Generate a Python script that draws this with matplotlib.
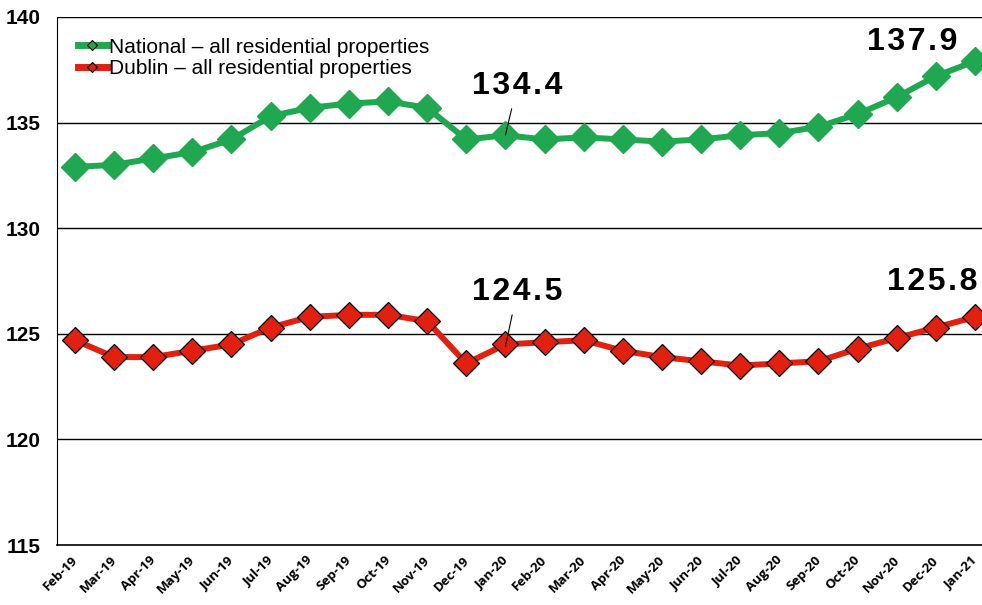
import matplotlib.pyplot as plt
import matplotlib.transforms as mtrans
from matplotlib.lines import Line2D
import numpy as np

months = ['Feb-19', 'Mar-19', 'Apr-19', 'May-19', 'Jun-19', 'Jul-19', 'Aug-19', 'Sep-19',
          'Oct-19', 'Nov-19', 'Dec-19', 'Jan-20', 'Feb-20', 'Mar-20', 'Apr-20', 'May-20',
          'Jun-20', 'Jul-20', 'Aug-20', 'Sep-20', 'Oct-20', 'Nov-20', 'Dec-20', 'Jan-21']
national = [132.9, 133.0, 133.3, 133.6, 134.2, 135.3, 135.7, 135.9, 136.0, 135.7, 134.2, 134.4,
            134.2, 134.3, 134.2, 134.1, 134.2, 134.4, 134.5, 134.8, 135.4, 136.2, 137.2, 137.9]
dublin = [124.7, 123.9, 123.9, 124.2, 124.5, 125.3, 125.8, 125.9, 125.9, 125.6, 123.6, 124.5,
          124.6, 124.7, 124.2, 123.9, 123.7, 123.5, 123.6, 123.7, 124.3, 124.8, 125.3, 125.8]
yticks = [115, 120, 125, 130, 135, 140]

green = '#1fa84f'
red = '#e2200f'


def spaced(v):
    # slight letter spacing like the original labels
    return '\u200a'.join(f'{v:.1f}')


fig = plt.figure(figsize=(9.82, 6.05), dpi=100)
ax = fig.add_axes([0.058, 0.099, 0.942, 0.873])
x = np.arange(len(months))

# gridlines
for v in yticks[1:]:
    ax.axhline(v, color='black', lw=1, zorder=1)

ax.plot(x, national, color=green, lw=4.3, marker='D', markersize=14,
        markerfacecolor=green, markeredgecolor=green, zorder=3)
ax.plot(x, dublin, color=red, lw=4.3, marker='D', markersize=13,
        markerfacecolor=red, markeredgecolor='black', markeredgewidth=0.9, zorder=3)

# legend entries
handles = [Line2D([], [], color=green, lw=5, marker='D', markersize=5,
                  markerfacecolor=green, markeredgecolor='black', markeredgewidth=0.8),
           Line2D([], [], color=red, lw=5, marker='D', markersize=5,
                  markerfacecolor=red, markeredgecolor='black', markeredgewidth=0.8)]
ax.legend(handles, ['National \u2013 all residential properties',
                    'Dublin \u2013 all residential properties'],
          loc='upper left', bbox_to_anchor=(0.0, 1.0), frameon=False,
          prop={'family': 'Liberation Sans', 'size': 15},
          handlelength=1.4, handletextpad=0.1, labelspacing=0.1, borderaxespad=0.6)

# value labels
lab = dict(fontsize=23, fontweight='bold', family='Liberation Sans', ha='center', va='center')
ax.annotate(spaced(national[11]), xy=(11, national[11]), xytext=(11.3, 136.75),
            arrowprops=dict(arrowstyle='-', color='black', lw=0.8, shrinkA=4, shrinkB=0), **lab)
ax.annotate(spaced(dublin[11]), xy=(11, dublin[11] - 0.1), xytext=(11.3, 127.0),
            arrowprops=dict(arrowstyle='-', color='black', lw=0.8, shrinkA=4, shrinkB=0), **lab)
ax.text(21.4, 138.8, spaced(national[-1]), **lab)
ax.text(21.9, 127.45, spaced(dublin[-1]), **lab)

ax.set_xlim(-0.46, 23.18)
ax.set_ylim(115, 140)
ax.set_yticks(yticks)
ax.set_yticklabels([str(v) for v in yticks], fontsize=15, fontweight='bold', family='Liberation Sans')
ax.set_xticks(x)
ax.set_xticklabels(months, rotation=45, ha='right', rotation_mode='anchor',
                   fontsize=9.5, fontweight='bold', family='Open Sans')
ax.tick_params(axis='both', length=0)
ax.tick_params(axis='y', pad=12)
ax.tick_params(axis='x', pad=6)
shift = mtrans.ScaledTranslation(-4 / 100, 0, fig.dpi_scale_trans)
for t in ax.get_xticklabels():
    t.set_transform(t.get_transform() + shift)

for s in ['top', 'right']:
    ax.spines[s].set_visible(False)
ax.spines['left'].set_color('black')
ax.spines['bottom'].set_color('black')
ax.spines['bottom'].set_linewidth(1.2)

fig.savefig('out.png', dpi=100)
